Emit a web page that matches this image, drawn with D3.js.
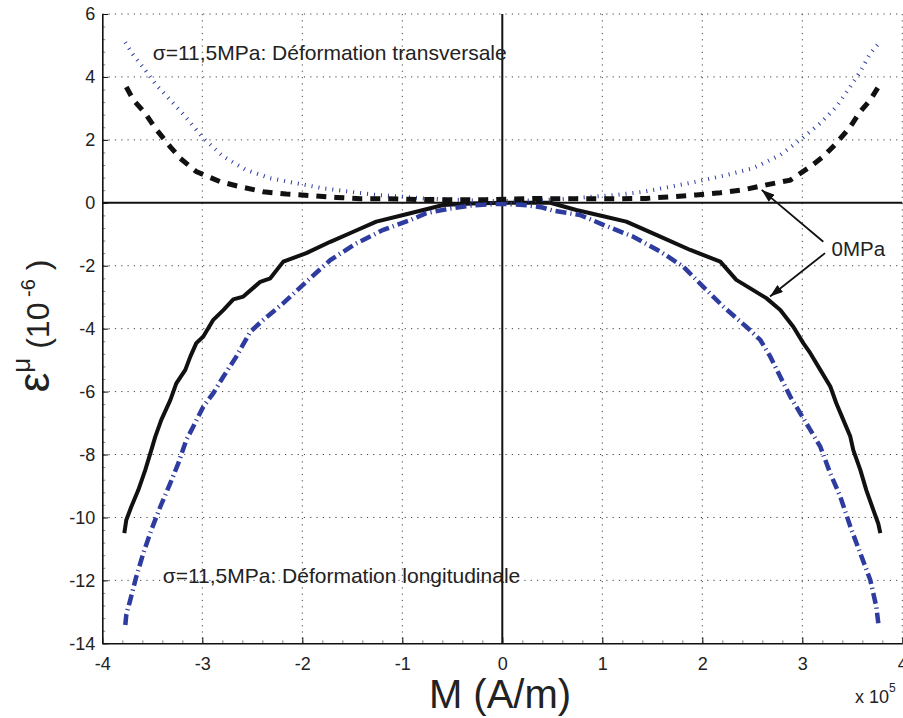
<!DOCTYPE html>
<html>
<head>
<meta charset="utf-8">
<script src="https://cdn.jsdelivr.net/npm/d3@7"></script>
<style>
  html, body { margin: 0; padding: 0; background: #fff; }
  svg { display: block; font-family: "Liberation Sans", Arial, Helvetica, sans-serif; }
</style>
</head>
<body>
<svg id="chart" width="903" height="718"></svg>
<script>
// ---------------- DATA ----------------
const xTicks = [-4, -3, -2, -1, 0, 1, 2, 3, 4];
const yTicks = [-14, -12, -10, -8, -6, -4, -2, 0, 2, 4, 6];

// 0 MPa, transversal strain (black dashed)
const mTrans0 = [-3.76,-3.69,-3.57,-3.47,-3.32,-3.22,-3.06,-2.82,-2.62,-2.39,-2.16,-1.92,-1.66,-1.42,-1.16,-0.93,-0.66,-0.43,-0.16,0.1,0.3,0.5,0.7,0.93,1.17,1.44,1.68,1.94,2.18,2.41,2.64,2.88,3.08,3.21,3.34,3.48,3.58,3.68,3.76];
const eTrans0 = [3.68,3.27,2.84,2.37,1.78,1.41,0.99,0.67,0.51,0.35,0.28,0.23,0.17,0.13,0.13,0.11,0.10,0.10,0.10,0.12,0.14,0.13,0.13,0.13,0.13,0.14,0.19,0.25,0.32,0.41,0.57,0.72,1.15,1.47,1.89,2.42,2.9,3.27,3.68];

// 11,5 MPa, transversal strain (blue dotted)
const mTrans115 = [-3.77,-3.69,-3.57,-3.46,-3.32,-3.17,-2.99,-2.79,-2.56,-2.32,-2.06,-1.79,-1.52,-1.26,-0.99,-0.79,-0.5,-0.25,0,0.25,0.5,0.7,0.88,1.14,1.41,1.68,1.94,2.24,2.51,2.78,2.98,3.18,3.34,3.48,3.58,3.68,3.78];
const eTrans115 = [5.1,4.7,4.22,3.74,3.27,2.74,2.05,1.47,1.04,0.78,0.62,0.46,0.35,0.25,0.19,0.14,0.1,0.07,0.05,0.07,0.1,0.14,0.19,0.25,0.35,0.51,0.67,0.88,1.1,1.52,2.0,2.53,3.05,3.69,4.17,4.75,5.12];

// 0 MPa, longitudinal strain (black solid)
const mLong0 = [-3.78,-3.76,-3.71,-3.64,-3.57,-3.51,-3.47,-3.41,-3.32,-3.26,-3.17,-3.12,-3.06,-2.99,-2.89,-2.79,-2.69,-2.59,-2.42,-2.32,-2.19,-1.96,-1.72,-1.49,-1.26,-0.99,-0.79,-0.59,-0.3,0,0.25,0.48,0.74,1.0,1.24,1.54,1.88,2.18,2.34,2.48,2.64,2.78,2.91,3.01,3.08,3.18,3.28,3.34,3.41,3.48,3.51,3.58,3.64,3.71,3.76,3.78];
const eLong0 = [-10.5,-10.08,-9.66,-9.13,-8.49,-7.86,-7.43,-6.9,-6.27,-5.74,-5.31,-4.89,-4.46,-4.25,-3.72,-3.41,-3.07,-2.98,-2.51,-2.4,-1.87,-1.6,-1.24,-0.92,-0.6,-0.39,-0.23,-0.07,-0.02,0,0,0,-0.23,-0.42,-0.6,-1.02,-1.5,-1.87,-2.45,-2.72,-3.03,-3.41,-3.94,-4.46,-4.78,-5.31,-5.84,-6.37,-6.9,-7.43,-7.86,-8.49,-9.13,-9.76,-10.2,-10.5];

// 11,5 MPa, longitudinal strain (blue dash-dot)
const mLong115 = [-3.77,-3.76,-3.72,-3.66,-3.59,-3.51,-3.42,-3.32,-3.24,-3.16,-3.09,-2.99,-2.89,-2.79,-2.66,-2.52,-2.39,-2.19,-1.96,-1.72,-1.46,-1.19,-0.92,-0.76,-0.52,-0.3,0,0.25,0.4,0.51,0.78,1.01,1.31,1.58,1.81,2.01,2.21,2.44,2.58,2.68,2.78,2.88,2.98,3.08,3.18,3.28,3.38,3.48,3.58,3.68,3.74,3.76];
const eLong115 = [-13.42,-13.1,-12.62,-11.88,-11.14,-10.4,-9.66,-8.91,-8.28,-7.54,-7.11,-6.48,-6.05,-5.53,-4.89,-4.1,-3.72,-3.19,-2.51,-1.82,-1.29,-0.86,-0.55,-0.33,-0.18,-0.08,-0.03,-0.08,-0.15,-0.25,-0.39,-0.7,-1.08,-1.55,-2.03,-2.67,-3.3,-3.94,-4.36,-4.89,-5.53,-6.16,-6.69,-7.22,-7.75,-8.6,-9.34,-10.29,-11.14,-11.99,-12.83,-13.36];

// annotations
const labelTrans = "σ=11,5MPa: Déformation transversale";
const labelLong = "σ=11,5MPa: Déformation longitudinale";
const label0 = "0MPa";

// ---------------- LAYOUT ----------------
const svg = d3.select("#chart");
const L = 102.3, R = 902.3, T = 14, B = 643.3;
const x = d3.scaleLinear().domain([-4, 4]).range([L, R]);
const y = d3.scaleLinear().domain([-14, 6]).range([B, T]);

const BLACK = "#111";
const BLUE = "#2d3c9e";

// grid
const grid = svg.append("g");
grid.selectAll("line.gx").data(xTicks.filter(d => d !== -4 && d !== 0)).join("line")
  .attr("x1", d => x(d)).attr("x2", d => x(d)).attr("y1", T).attr("y2", B)
  .attr("stroke", "#444").attr("stroke-width", 1).attr("stroke-dasharray", "1.2,5.1");
grid.selectAll("line.gy").data(yTicks.filter(d => d !== -14 && d !== 0)).join("line")
  .attr("x1", L).attr("x2", R).attr("y1", d => y(d)).attr("y2", d => y(d))
  .attr("stroke", "#444").attr("stroke-width", 1).attr("stroke-dasharray", "1.2,5.1");

// minor ticks
const minorX = d3.range(-4, 4.001, 0.2).map(v => +v.toFixed(2));
const minorY = d3.range(-14, 6.001, 0.4).map(v => +v.toFixed(2));
svg.append("g").attr("transform", `translate(0,${B})`)
  .call(d3.axisBottom(x).tickValues(minorX).tickSize(-3).tickSizeOuter(0).tickFormat(""))
  .call(g => g.select(".domain").remove())
  .call(g => g.selectAll("line").attr("stroke", "#888"));
svg.append("g").attr("transform", `translate(${L},0)`)
  .call(d3.axisLeft(y).tickValues(minorY).tickSize(-3).tickSizeOuter(0).tickFormat(""))
  .call(g => g.select(".domain").remove())
  .call(g => g.selectAll("line").attr("stroke", "#888"));

// zero lines
svg.append("line").attr("x1", L).attr("x2", R).attr("y1", y(0)).attr("y2", y(0))
  .attr("stroke", BLACK).attr("stroke-width", 2);
svg.append("line").attr("x1", x(0)).attr("x2", x(0)).attr("y1", T).attr("y2", B)
  .attr("stroke", BLACK).attr("stroke-width", 2);

// major axes
const ax = svg.append("g").attr("transform", `translate(0,${B})`)
  .call(d3.axisBottom(x).tickValues(xTicks).tickSize(-6).tickSizeOuter(0).tickPadding(14).tickFormat(d => String(d)));
const ay = svg.append("g").attr("transform", `translate(${L},0)`)
  .call(d3.axisLeft(y).tickValues(yTicks).tickSize(-6).tickSizeOuter(0).tickPadding(7).tickFormat(d => String(d)));
[ax, ay].forEach(g => {
  g.select(".domain").attr("stroke", BLACK).attr("stroke-width", 1.6);
  g.selectAll(".tick line").attr("stroke", BLACK);
  g.selectAll(".tick text").attr("font-size", 18).attr("fill", "#222")
    .attr("font-family", "'Liberation Sans', Arial, sans-serif");
});

// curves
const line = d3.line().x(d => x(d[0])).y(d => y(d[1]));
const zip = (a, b) => a.map((v, i) => [v, b[i]]);
const curves = svg.append("g").attr("fill", "none");
curves.append("path").datum(zip(mLong0, eLong0)).attr("d", line)
  .attr("stroke", BLACK).attr("stroke-width", 4).attr("stroke-linejoin", "round");
curves.append("path").datum(zip(mLong115, eLong115)).attr("d", line)
  .attr("stroke", BLUE).attr("stroke-width", 4.5).attr("stroke-dasharray", "11,4,1.2,4");
curves.append("path").datum(zip(mTrans115, eTrans115)).attr("d", line)
  .attr("stroke", BLUE).attr("stroke-width", 4).attr("stroke-dasharray", "1,6");
curves.append("path").datum(zip(mTrans0, eTrans0)).attr("d", line)
  .attr("stroke", BLACK).attr("stroke-width", 5).attr("stroke-dasharray", "10,8");

// annotation texts
svg.append("text").attr("x", 152.7).attr("y", 59.5).attr("font-size", 21).attr("fill", "#222").text(labelTrans);
svg.append("text").attr("x", 162.7).attr("y", 583).attr("font-size", 21).attr("fill", "#222").text(labelLong);
svg.append("text").attr("x", 831.5).attr("y", 256).attr("font-size", 20.5).attr("fill", "#222").text(label0);

// arrows
const defs = svg.append("defs");
defs.append("marker").attr("id", "ah").attr("viewBox", "0 0 13 9").attr("refX", 13).attr("refY", 4.5)
  .attr("markerWidth", 13).attr("markerHeight", 9).attr("markerUnits", "userSpaceOnUse").attr("orient", "auto")
  .append("path").attr("d", "M0,0 L13,4.5 L0,9 Z").attr("fill", BLACK);
const arrows = [[3.21, -1.24, 2.594, 0.41], [3.227, -1.6, 2.677, -2.98]];
svg.selectAll("line.arrow").data(arrows).join("line")
  .attr("x1", d => x(d[0])).attr("y1", d => y(d[1])).attr("x2", d => x(d[2])).attr("y2", d => y(d[3]))
  .attr("stroke", BLACK).attr("stroke-width", 1.8).attr("marker-end", "url(#ah)");

// axis titles
svg.append("text").attr("x", 500).attr("y", 708).attr("text-anchor", "middle")
  .attr("font-size", 40).attr("fill", "#222").text("M (A/m)");
const xs = svg.append("text").attr("x", 855).attr("y", 703).attr("font-size", 18).attr("fill", "#222");
xs.append("tspan").text("x 10");
xs.append("tspan").attr("dy", -11).attr("font-size", 12).text("5");

const yt = svg.append("text").attr("transform", "translate(49,326) rotate(-90)")
  .attr("text-anchor", "middle").attr("fill", "#222");
yt.append("tspan").attr("font-size", 44).text("ε");
yt.append("tspan").attr("font-size", 26).attr("dy", -19).text("μ");
yt.append("tspan").attr("font-size", 32).attr("dy", 19).text(" (10");
yt.append("tspan").attr("font-size", 20).attr("dy", -14).text(" -6");
yt.append("tspan").attr("font-size", 32).attr("dy", 14).text(" )");
</script>
</body>
</html>
